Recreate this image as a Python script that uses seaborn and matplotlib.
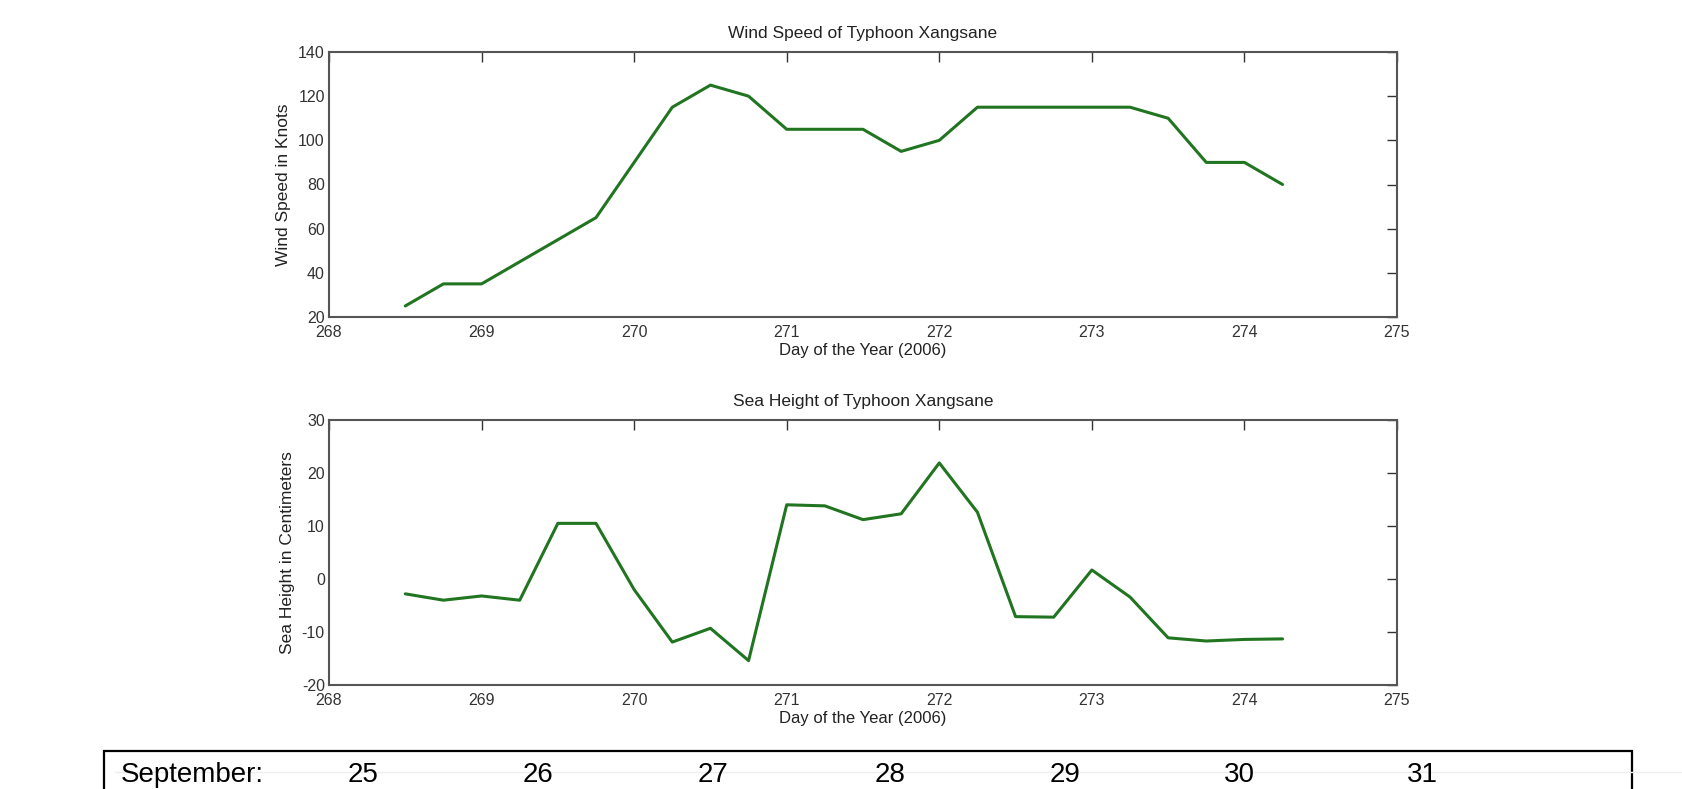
import matplotlib
matplotlib.use("Agg")
import matplotlib.pyplot as plt
import seaborn as sns
import pandas as pd
from matplotlib.patches import Rectangle
from matplotlib.lines import Line2D

# ---- data ----
day_of_year = [268.5, 268.75, 269.0, 269.25, 269.5, 269.75, 270.0, 270.25,
               270.5, 270.75, 271.0, 271.25, 271.5, 271.75, 272.0, 272.25,
               272.5, 272.75, 273.0, 273.25, 273.5, 273.75, 274.0, 274.25]
wind_speed = [25, 35, 35, 45, 55, 65, 90, 115,
              125, 120, 105, 105, 105, 95, 100, 115,
              115, 115, 115, 115, 110, 90, 90, 80]
sea_height = [-2.8, -4.0, -3.2, -4.0, 10.5, 10.5, -2.0, -11.9,
              -9.3, -15.4, 14.0, 13.8, 11.2, 12.3, 21.9, 12.6,
              -7.1, -7.2, 1.7, -3.4, -11.1, -11.7, -11.4, -11.3]
x_ticks = [268, 269, 270, 271, 272, 273, 274, 275]
wind_ticks = [20, 40, 60, 80, 100, 120, 140]
sea_ticks = [-20, -10, 0, 10, 20, 30]
month_label = "September:"
month_days = ["25", "26", "27", "28", "29", "30", "31"]

df = pd.DataFrame({"day": day_of_year, "wind": wind_speed, "sea": sea_height})

sns.set_style("white")
plt.rcParams["font.family"] = ["Liberation Sans", "DejaVu Sans"]
plt.rcParams["axes.unicode_minus"] = False

fig = plt.figure(figsize=(16.82, 7.89), dpi=100)
W, H = 1682, 789
ax1 = fig.add_axes([329 / W, 1 - 317 / H, (1397 - 329) / W, (317 - 52) / H])
ax2 = fig.add_axes([329 / W, 1 - 685 / H, (1397 - 329) / W, (685 - 420) / H])

line_color = "#217521"
sns.lineplot(data=df, x="day", y="wind", ax=ax1, color=line_color, linewidth=2.2)
sns.lineplot(data=df, x="day", y="sea", ax=ax2, color=line_color, linewidth=2.2)

specs = [
    (ax1, wind_ticks, "Wind Speed of Typhoon Xangsane", "Wind Speed in Knots"),
    (ax2, sea_ticks, "Sea Height of Typhoon Xangsane", "Sea Height in Centimeters"),
]
for ax, yt, title, ylabel in specs:
    ax.set_xlim(x_ticks[0], x_ticks[-1])
    ax.set_ylim(yt[0], yt[-1])
    ax.set_xticks(x_ticks)
    ax.set_yticks(yt)
    ax.tick_params(direction="in", length=7, width=1, color="#333333",
                   top=True, right=True, labelsize=11.5, labelcolor="#333333")
    ax.tick_params(axis="x", pad=6)
    ax.tick_params(axis="y", pad=3)
    for s in ax.spines.values():
        s.set_visible(True)
        s.set_color("#555555")
        s.set_linewidth(1.5)
    ax.set_title(title, fontsize=12.5, color="#222222", pad=10)
    ax.set_xlabel("Day of the Year (2006)", fontsize=12, color="#222222", labelpad=2)
    ax.set_ylabel(ylabel, fontsize=12.5, color="#222222", labelpad=5)
    ax.grid(False)

# faint scan line and bottom date box
fig.add_artist(Line2D([115 / W, 1.0], [1 - 772 / H, 1 - 772 / H],
                      transform=fig.transFigure, color="#eeeeee", linewidth=1))
fig.add_artist(Rectangle((104 / W, -0.05), (1632 - 104) / W, 0.05 + (1 - 751 / H),
                         transform=fig.transFigure, fill=False,
                         edgecolor="black", linewidth=1.6))
fig.text(121 / W, 1 - 782 / H, month_label, fontsize=20, va="baseline", ha="left",
         color="black")
day_x = [363, 538, 713, 890, 1065, 1239, 1422]
for xpix, d in zip(day_x, month_days):
    fig.text(xpix / W, 1 - 782 / H, d, fontsize=20, va="baseline", ha="center",
             color="black")

fig.savefig("out.png", dpi=100)
